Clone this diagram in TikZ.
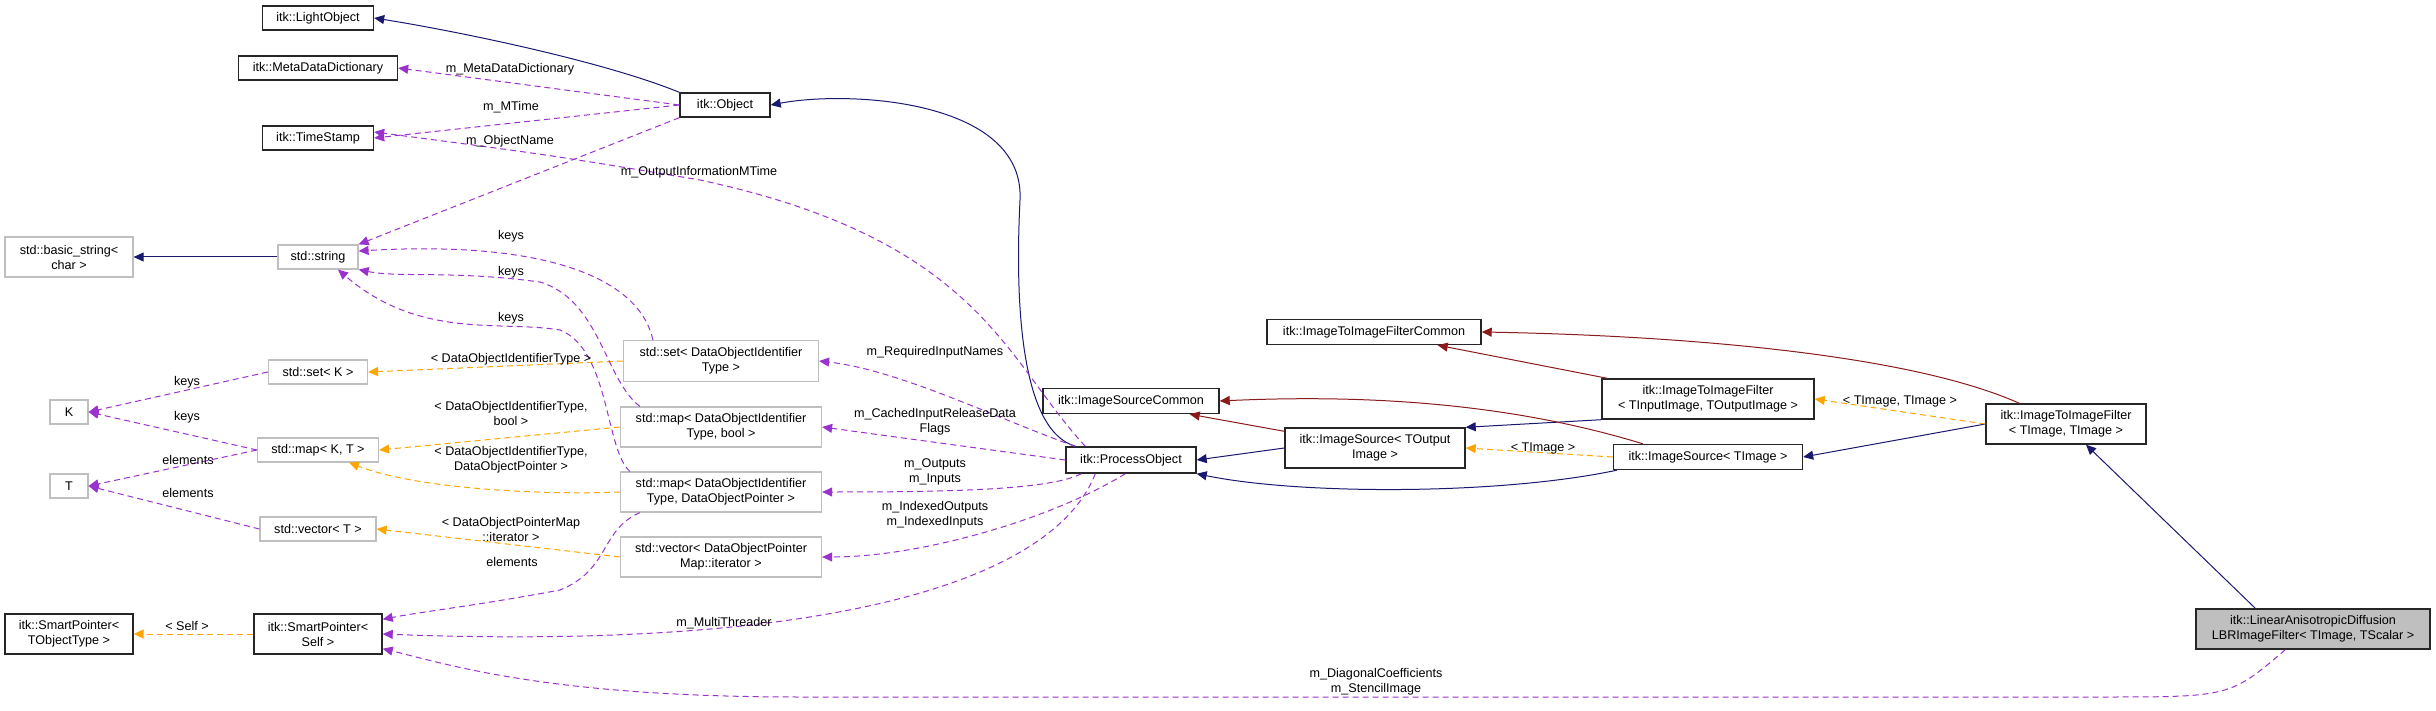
\documentclass[tikz,border=0pt]{standalone}
\usepackage{fontspec}
\setmainfont{Liberation Sans}
\usetikzlibrary{arrows.meta}
\definecolor{inh}{HTML}{191970}
\definecolor{prv}{HTML}{8B1A1A}
\definecolor{tmp}{HTML}{FFA500}
\definecolor{use}{HTML}{9A32CD}
\definecolor{gb}{HTML}{BFBFBF}
\begin{document}
\begin{tikzpicture}[x=0.5pt,y=-0.5pt,
  every node/.style={font=\fontsize{6.3}{7.5}\selectfont},
  bk/.style={draw=black!85,line width=0.7pt,fill=white,align=center,inner sep=1pt},
  gr/.style={draw=gb,line width=0.6pt,fill=white,align=center,inner sep=1pt},
  lbl/.style={align=center,inner sep=0pt},
  tip/.style={-{Triangle[length=5pt,width=4.5pt]}},
  ih/.style={tip,draw=inh,line width=0.5pt},
  pv/.style={tip,draw=prv,line width=0.5pt},
  tp/.style={tip,draw=tmp,dash pattern=on 3pt off 2pt,line width=0.5pt},
  us/.style={tip,draw=use,dash pattern=on 3pt off 2pt,line width=0.5pt}]
\useasboundingbox (0,0) rectangle (2436,711);
% nodes
\node[bk,minimum width=55.5pt,minimum height=12pt] (lo) at (318,18) {itk::LightObject};
\node[bk,minimum width=79.5pt,minimum height=12pt] (md) at (318,68) {itk::MetaDataDictionary};
\node[bk,minimum width=55.5pt,minimum height=12pt] (ts) at (318,138) {itk::TimeStamp};
\node[bk,minimum width=45pt,minimum height=12pt] (obj) at (725,105) {itk::Object};
\node[gr,minimum width=64pt,minimum height=20pt] (bs) at (69,257) {std::basic\_string\textless\\char \textgreater};
\node[gr,minimum width=40pt,minimum height=12pt] (str) at (318,257) {std::string};
\node[gr,minimum width=49.5pt,minimum height=12pt] (setk) at (318,372) {std::set\textless{} K \textgreater};
\node[gr,minimum width=19pt,minimum height=12pt] (K) at (69,412) {K};
\node[gr,minimum width=60.5pt,minimum height=12pt] (mapkt) at (318,450) {std::map\textless{} K, T \textgreater};
\node[gr,minimum width=19pt,minimum height=12pt] (T) at (69,486) {T};
\node[gr,minimum width=58pt,minimum height=12pt] (vect) at (318,529) {std::vector\textless{} T \textgreater};
\node[bk,minimum width=64pt,minimum height=20pt] (spt) at (69,634) {itk::SmartPointer\textless\\TObjectType \textgreater};
\node[bk,minimum width=64pt,minimum height=20pt] (sps) at (318,634) {itk::SmartPointer\textless\\Self \textgreater};
\node[gr,minimum width=97.5pt,minimum height=20.5pt] (setd) at (721,361) {std::set\textless{} DataObjectIdentifier\\Type \textgreater};
\node[gr,minimum width=100.5pt,minimum height=20pt] (mapb) at (721,427) {std::map\textless{} DataObjectIdentifier\\Type, bool \textgreater};
\node[gr,minimum width=100.5pt,minimum height=20pt] (mapp) at (721,492) {std::map\textless{} DataObjectIdentifier\\Type, DataObjectPointer \textgreater};
\node[gr,minimum width=100.5pt,minimum height=20pt] (vecp) at (721,557) {std::vector\textless{} DataObjectPointer\\Map::iterator \textgreater};
\node[bk,minimum width=88pt,minimum height=12.5pt] (isc) at (1131,401) {itk::ImageSourceCommon};
\node[bk,minimum width=65pt,minimum height=13pt] (po) at (1131,460) {itk::ProcessObject};
\node[bk,minimum width=107pt,minimum height=12.5pt] (itic) at (1374,332) {itk::ImageToImageFilterCommon};
\node[bk,minimum width=106pt,minimum height=20pt] (itio) at (1708,399) {itk::ImageToImageFilter\\\textless{} TInputImage, TOutputImage \textgreater};
\node[bk,minimum width=80pt,minimum height=20pt] (itii) at (2066,424) {itk::ImageToImageFilter\\\textless{} TImage, TImage \textgreater};
\node[bk,minimum width=90pt,minimum height=20pt] (iso) at (1375,448) {itk::ImageSource\textless{} TOutput\\Image \textgreater};
\node[bk,minimum width=94.5pt,minimum height=12.5pt] (isi) at (1708,457) {itk::ImageSource\textless{} TImage \textgreater};
\node[bk,fill=gb,minimum width=117pt,minimum height=20pt] (lin) at (2313,629) {itk::LinearAnisotropicDiffusion\\LBRImageFilter\textless{} TImage, TScalar \textgreater};
% inheritance
\draw[ih] (obj.north west) .. controls (600,60) and (450,30) .. (lo.east);
\draw[ih] (str) -- (bs);
\draw[ih] ([xshift=5pt]po.north west) .. controls (1020,430) and (1015,300) .. (1020,200) .. controls (1025,100) and (850,90) .. (obj.east);
\draw[ih] (iso.west) -- (po.east);
\draw[ih] ([xshift=2pt]isi.south west) .. controls (1500,495) and (1300,495) .. (po.south east);
\draw[ih] (itio.south west) -- (iso.north east);
\draw[ih] (itii.west) -- (isi.east);
\draw[ih] ([xshift=30pt]lin.north west) -- ([xshift=10pt]itii.south);
% dark red
\draw[pv] ([yshift=-2pt]iso.north west) -- ([xshift=-15pt]isc.south east);
\draw[pv] ([xshift=15pt]isi.north west) .. controls (1500,400) and (1350,395) .. (isc.east);
\draw[pv] ([xshift=3pt]itio.north west) -- ([xshift=-22pt]itic.south east);
\draw[pv] ([xshift=17pt]itii.north west) .. controls (1900,350) and (1650,335) .. (itic.east);
% template
\draw[tp] (setd.west) -- (setk.east);
\draw[tp] (mapb.west) -- (mapkt.east);
\draw[tp] (mapp.west) .. controls (550,495) and (420,490) .. ([xshift=-15pt]mapkt.south east);
\draw[tp] (vecp.west) -- (vect.east);
\draw[tp] (sps) -- (spt);
\draw[tp] (itii.west) -- (itio.east);
\draw[tp] (isi.west) -- (iso.east);
% usage
\draw[us] (obj.west) -- (md.east);
\draw[us] (obj.west) -- (ts.east);
\draw[us] (obj.south west) -- (str.north east);
\draw[us] ([xshift=10pt]po.north west) .. controls (1005,360) and (980,240) .. (700,180) .. controls (550,155) .. ([yshift=3pt]ts.east);
\draw[us] ([xshift=15pt]setd.north west) .. controls (640,280) and (550,240) .. ([yshift=3pt]str.east);
\draw[us] ([xshift=10pt]mapb.north west) .. controls (605,380) and (600,300) .. (540,282) .. controls (450,270) and (400,278) .. (str.south east);
\draw[us] ([xshift=5pt]mapp.north west) .. controls (605,450) and (610,350) .. (560,330) .. controls (500,320) and (420,340) .. ([xshift=10pt]str.south);
\draw[us] ([xshift=10pt]mapp.south west) .. controls (600,530) and (610,570) .. (560,590) .. controls (480,605) and (420,612) .. ([yshift=-3pt]sps.north east);
\draw[us] (setk.west) -- (K.east);
\draw[us] (mapkt.west) -- (K.east);
\draw[us] (mapkt.west) -- (T.east);
\draw[us] (vect.west) -- (T.east);
\draw[us] ([xshift=5pt]po.north west) .. controls (1000,420) and (900,370) .. (setd.east);
\draw[us] (po.west) -- (mapb.east);
\draw[us] ([xshift=8pt]po.south west) .. controls (1050,490) and (950,492) .. (mapp.east);
\draw[us] ([xshift=30pt]po.south west) .. controls (1050,520) and (920,557) .. (vecp.east);
\draw[us] ([xshift=15pt]po.south west) .. controls (1050,590) and (800,650) .. (sps.east);
\draw[us] ([xshift=45pt]lin.south west) .. controls (2230,697) .. (2100,697) -- (800,697) .. controls (550,697) and (450,665) .. ([yshift=3pt]sps.south east);
% labels
\node[lbl] at (510,69) {m\_MetaDataDictionary};
\node[lbl] at (511,107) {m\_MTime};
\node[lbl] at (510,141) {m\_ObjectName};
\node[lbl] at (699,172) {m\_OutputInformationMTime};
\node[lbl] at (511,236) {keys};
\node[lbl] at (511,272) {keys};
\node[lbl] at (511,318) {keys};
\node[lbl] at (511,359) {\textless{} DataObjectIdentifierType \textgreater};
\node[lbl] at (187,382) {keys};
\node[lbl] at (187,417) {keys};
\node[lbl] at (511,413) {\textless{} DataObjectIdentifierType,\\bool \textgreater};
\node[lbl] at (188,460) {elements};
\node[lbl] at (511,460) {\textless{} DataObjectIdentifierType,\\DataObjectPointer \textgreater};
\node[lbl] at (188,493) {elements};
\node[lbl] at (511,529) {\textless{} DataObjectPointerMap\\::iterator \textgreater};
\node[lbl] at (512,562) {elements};
\node[lbl] at (187,626) {\textless{} Self \textgreater};
\node[lbl] at (724,623) {m\_MultiThreader};
\node[lbl] at (935,352) {m\_RequiredInputNames};
\node[lbl] at (935,422) {m\_CachedInputReleaseData\\Flags};
\node[lbl] at (935,472) {m\_Outputs\\m\_Inputs};
\node[lbl] at (935,515) {m\_IndexedOutputs\\m\_IndexedInputs};
\node[lbl] at (1900,401) {\textless{} TImage, TImage \textgreater};
\node[lbl] at (1543,448) {\textless{} TImage \textgreater};
\node[lbl] at (1376,682) {m\_DiagonalCoefficients\\m\_StencilImage};
\end{tikzpicture}
\end{document}
